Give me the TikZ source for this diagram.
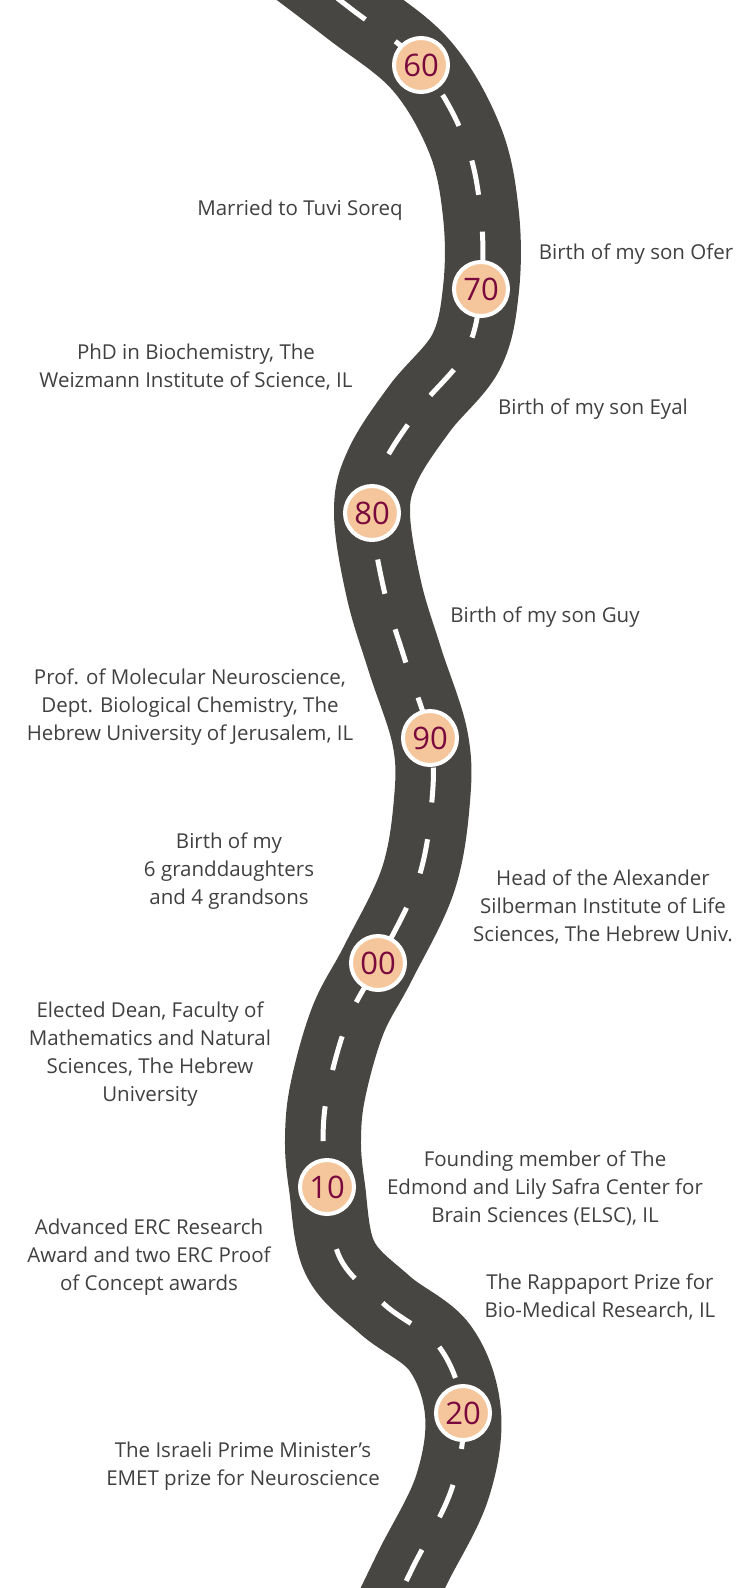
\documentclass[tikz,border=0pt]{standalone}
\usepackage{fontspec}
\setmainfont{Open Sans}
\definecolor{roadc}{RGB}{72,70,67}
\definecolor{peach}{RGB}{245,198,155}
\definecolor{numc}{RGB}{122,10,62}
\definecolor{txt}{RGB}{64,64,64}
\begin{document}
\begin{tikzpicture}[x=1pt,y=-1pt,
  yearnode/.style={circle,fill=peach,draw=white,line width=4pt,minimum size=54pt,inner sep=0pt,text=numc,font=\fontsize{31}{31}\selectfont},
  lbl/.style={align=center,text=txt,font=\fontsize{20.5}{28}\selectfont,inner sep=0pt},
  roadline/.style={roadc,line width=76pt},
  centerline/.style={white,line width=5pt,dash pattern=on 35pt off 37pt}]
\useasboundingbox (0,0) rectangle (755,1588);
\clip (0,0) rectangle (755,1588);
\def\roadpts{(280,-45) (350,8) (421,65) (465,140) (481,215) (481,289) (466,352) (420,408) (383,465) (372,513) (384,590) (405,660) (430,738) (432,800) (418,880) (378,963) (348,1020) (328,1090) (323,1140) (327,1187) (340,1258) (385,1305) (440,1348) (463,1413) (452,1488) (413,1567) (385,1625)}
\draw[roadline] plot[smooth,tension=0.6] coordinates {\roadpts};
\draw[centerline] plot[smooth,tension=0.6] coordinates {\roadpts};
\node[yearnode] (y60) at (421,65) {60};
\node[yearnode] (y70) at (481,289) {70};
\node[yearnode] (y80) at (372,513) {80};
\node[yearnode] (y90) at (430,738) {90};
\node[yearnode] (y00) at (378,963) {00};
\node[yearnode] (y10) at (327,1187) {10};
\node[yearnode] (y20) at (463,1413) {20};
\node[lbl] (t1) at (300,210) {Married to Tuvi Soreq};
\node[lbl] (t2) at (636,254) {Birth of my son Ofer};
\node[lbl] (t3) at (196,367) {PhD in Biochemistry, The\\Weizmann Institute of Science, IL};
\node[lbl] (t4) at (593,409) {Birth of my son Eyal};
\node[lbl] (t5) at (545,617) {Birth of my son Guy};
\node[lbl] (t6) at (190,707) {Prof. of Molecular Neuroscience,\\Dept. Biological Chemistry, The\\Hebrew University of Jerusalem, IL};
\node[lbl] (t7) at (229,871) {Birth of my\\6 granddaughters\\and 4 grandsons};
\node[lbl] (t8) at (603,907) {Head of the Alexander\\Silberman Institute of Life\\Sciences, The Hebrew Univ.};
\node[lbl] (t9) at (150,1054) {Elected Dean, Faculty of\\Mathematics and Natural\\Sciences, The Hebrew\\University};
\node[lbl] (t10) at (545,1188) {Founding member of The\\Edmond and Lily Safra Center for\\Brain Sciences (ELSC), IL};
\node[lbl] (t11) at (149,1257) {Advanced ERC Research\\Award and two ERC Proof\\of Concept awards};
\node[lbl] (t12) at (600,1297) {The Rappaport Prize for\\Bio-Medical Research, IL};
\node[lbl] (t13) at (243,1466) {The Israeli Prime Minister’s\\EMET prize for Neuroscience};
\end{tikzpicture}
\end{document}
